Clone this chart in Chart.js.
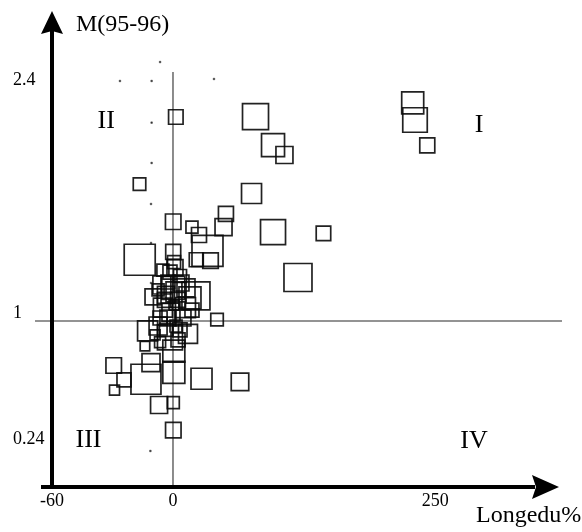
<!DOCTYPE html>
<html>
<head>
<meta charset="utf-8">
<script src="https://cdn.jsdelivr.net/npm/chart.js@4/dist/chart.umd.min.js"></script>
<style>
  body { margin: 0; background: #fff; }
  canvas { display: block; }
</style>
</head>
<body>
<canvas id="quadChart" width="582" height="532"></canvas>
<script>
// squares: Longedu% (x), M(95-96) (y), size value (side of the square)
const sqX = [78.7, 95.4, 106.3, 228.6, 230.8, 242.5, 74.9, 50.5, 48.2, 95.4, 143.5, 119.2,
  2.7, -16.6, 0.2, 18.1, 24.8, 32.9, 22.2, 35.8, -16.5, 0.2, 1.9, 0.3, -9.9, 21.9,
  -5.0, 11.9, 42.0, -12.6, -13.9, -10.9, 0.8, 0.8, -29.4, -24.3, -29.0, -13.4, 27.2,
  63.9, -6.9, 0.3, 0.3, -1.5,
  -2.5, 6.7, -3.5, 4.8, -1.0, -6.4, 9.5, 2.9, -3.5, 14.3, -7.4, 12.4, 1.0, -5.0,
  4.8, -6.4, 16.2, -8.9,
  -1.5, 7.6, -4.0, 2.9, -2.5, 6.7, -5.5, 18.1, 1.0, -7.4];
const sqY = [2.231, 2.060, 2.000, 2.314, 2.211, 2.058, 1.768, 1.645, 1.566, 1.536, 1.528, 1.262,
  2.229, 1.825, 1.598, 1.566, 1.518, 1.422, 1.369, 1.364, 1.369, 1.417, 1.322, 1.199, 1.145, 1.151,
  1.081, 1.081, 1.008, 0.940, 0.849, 0.749, 0.819, 0.690, 0.732, 0.645, 0.584, 0.649, 0.652,
  0.633, 0.494, 0.508, 0.343, 0.901,
  1.235, 1.271, 1.157, 1.127, 1.054, 1.018, 1.018, 0.970, 0.946, 0.922, 1.187, 1.199, 1.096, 1.307,
  0.886, 0.873, 1.139, 0.916,
  1.295, 1.229, 1.127, 1.175, 1.018, 0.946, 1.217, 1.066, 1.355, 0.970];
const sqSize = [26, 23, 17, 22, 24.5, 15, 20, 15, 17, 25, 14.5, 28,
  14.5, 12.5, 15.5, 12, 15, 31, 14, 15.5, 31, 15, 16, 23, 16, 28,
  19, 20, 12.5, 20, 9.5, 18, 22, 22, 15.5, 14, 10, 30, 21,
  17.5, 17, 12, 15.5, 25,
  14, 13, 17, 15, 18, 14, 16, 12, 13, 19, 12, 18, 10, 12,
  14, 11, 22, 10,
  14, 16, 15, 20, 16, 14, 18, 14, 13, 18];

// tiny specks
const dotX = [-6.4, -26.3, -10.6, 39.1, -10.6, -10.6, -10.9, -10.9, -10.9, -11.2, 363.3, 376.7];
const dotY = [2.560, 2.446, 2.446, 2.458, 2.195, 1.952, 1.705, 1.470, 1.229, 0.217, 0.892, 0.0];

const xTicks = [-60, 0, 250];
const yTicks = [0.24, 1, 2.4];

const quadNames = ['I', 'II', 'III', 'IV'];
const quadX = [291.8, -33.1, -41.9, 287];
const quadY = [2.18, 2.202, 0.285, 0.277];

const xTitle = 'Longedu%';
const yTitle = 'M(95-96)';

// reference lines x = 0 and y = 1
const VLINE_TOP = 2.5;
const HLINE_END = 371;

// negative side of the x axis is drawn stretched
const NEG_STRETCH = 1.923;

class SplitLinearScale extends Chart.LinearScale {
  getPixelForValue(value) {
    return super.getPixelForValue(value < 0 ? value * NEG_STRETCH : value);
  }
  getValueForPixel(pixel) {
    const v = super.getValueForPixel(pixel);
    return v < 0 ? v / NEG_STRETCH : v;
  }
}
SplitLinearScale.id = 'splitLinear';
SplitLinearScale.defaults = Chart.LinearScale.defaults;
Chart.register(SplitLinearScale);

const SERIF = "'Liberation Serif', 'Times New Roman', serif";

const decorations = {
  id: 'decorations',
  beforeDatasetsDraw(chart) {
    const { ctx, chartArea, scales: { x, y } } = chart;
    const x0 = x.getPixelForValue(0);
    const y1 = y.getPixelForValue(1);
    ctx.save();
    ctx.strokeStyle = '#707070';
    ctx.lineWidth = 1.6;
    ctx.beginPath();
    ctx.moveTo(x0, y.getPixelForValue(VLINE_TOP));
    ctx.lineTo(x0, chartArea.bottom);
    ctx.moveTo(chartArea.left - 17, y1);
    ctx.lineTo(x.getPixelForValue(HLINE_END), y1);
    ctx.stroke();
    ctx.restore();
  },
  afterDraw(chart) {
    const { ctx, chartArea, scales: { x, y } } = chart;
    const left = chartArea.left, bottom = chartArea.bottom;
    ctx.save();
    // axes with arrow heads
    ctx.strokeStyle = '#000';
    ctx.fillStyle = '#000';
    ctx.lineWidth = 4;
    ctx.beginPath();
    ctx.moveTo(left, 30);
    ctx.lineTo(left, bottom + 2);
    ctx.moveTo(left - 11, bottom);
    ctx.lineTo(535, bottom);
    ctx.stroke();
    ctx.beginPath();
    ctx.moveTo(left, 11);
    ctx.lineTo(left - 11, 34);
    ctx.lineTo(left, 31);
    ctx.lineTo(left + 11, 34);
    ctx.closePath();
    ctx.fill();
    ctx.beginPath();
    ctx.moveTo(559, bottom);
    ctx.lineTo(532, bottom - 12);
    ctx.lineTo(536, bottom);
    ctx.lineTo(532, bottom + 12);
    ctx.closePath();
    ctx.fill();

    // axis titles
    ctx.font = '24px ' + SERIF;
    ctx.textBaseline = 'alphabetic';
    ctx.textAlign = 'left';
    ctx.fillText(yTitle, left + 24, 31);
    ctx.fillText(xTitle, 476, 522);

    // quadrant numerals
    ctx.font = '26px ' + SERIF;
    ctx.textAlign = 'center';
    ctx.textBaseline = 'middle';
    quadNames.forEach((name, i) => {
      ctx.fillText(name, x.getPixelForValue(quadX[i]), y.getPixelForValue(quadY[i]));
    });
    ctx.restore();
  }
};

const squares = sqX.map((v, i) => ({ x: v, y: sqY[i], r: sqSize[i] / Math.SQRT2 }));
const specks = dotX.map((v, i) => ({ x: v, y: dotY[i], r: 1.1 }));

new Chart(document.getElementById('quadChart'), {
  type: 'bubble',
  data: {
    datasets: [{
      data: squares,
      pointStyle: 'rect',
      backgroundColor: 'rgba(0,0,0,0)',
      borderColor: 'rgba(10,10,10,0.9)',
      borderWidth: 1.7
    }, {
      data: specks,
      pointStyle: 'rect',
      backgroundColor: '#333',
      borderColor: '#333',
      borderWidth: 0.5,
      clip: false
    }]
  },
  plugins: [decorations],
  options: {
    responsive: false,
    animation: false,
    devicePixelRatio: 1,
    layout: { padding: { left: 13, top: 33, right: 42, bottom: 0 } },
    plugins: { legend: { display: false }, tooltip: { enabled: false } },
    scales: {
      x: {
        type: 'splitLinear',
        bounds: 'data',
        min: -60 * NEG_STRETCH,
        max: 350,
        grid: { display: false, drawTicks: false },
        border: { display: false },
        afterBuildTicks: (scale) => { scale.ticks = xTicks.map(v => ({ value: v })); },
        afterFit: (scale) => { scale.height = 45; },
        ticks: {
          padding: 3,
          maxRotation: 0,
          autoSkip: false,
          color: '#000',
          font: { family: SERIF, size: 18 },
          callback: (v) => String(v)
        }
      },
      y: {
        type: 'linear',
        bounds: 'data',
        min: 0,
        max: 2.735,
        grid: { display: false, drawTicks: false },
        border: { display: false },
        afterBuildTicks: (scale) => { scale.ticks = yTicks.map(v => ({ value: v })); },
        afterFit: (scale) => { scale.width = 39; },
        ticks: {
          crossAlign: 'far',
          labelOffset: -8,
          autoSkip: false,
          color: '#000',
          font: { family: SERIF, size: 18 },
          callback: (v) => String(v)
        }
      }
    }
  }
});
</script>
</body>
</html>
